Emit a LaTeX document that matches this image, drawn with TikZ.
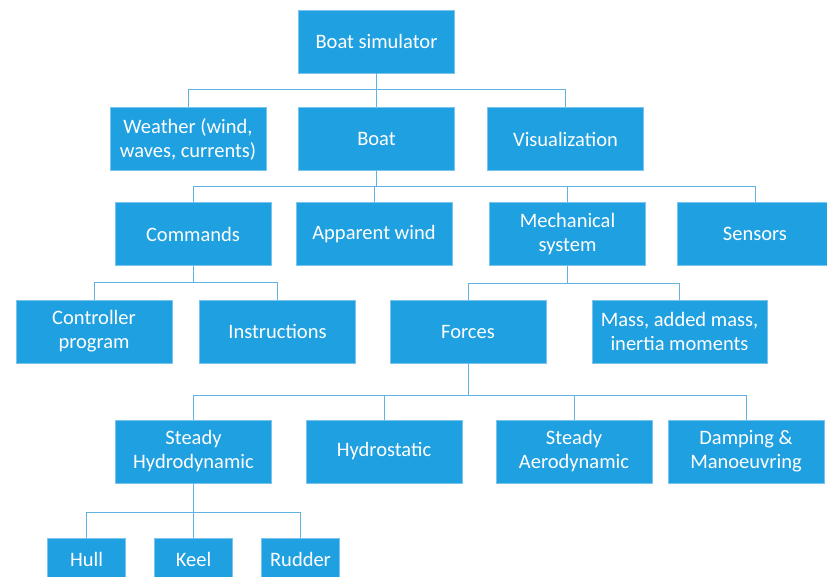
\documentclass[tikz,border=0pt]{standalone}
\usepackage{fontspec}
\setmainfont{Carlito}
\usetikzlibrary{positioning}
\definecolor{boxblue}{RGB}{31,160,224}
\definecolor{boxedge}{RGB}{120,196,236}
\definecolor{linkblue}{RGB}{96,178,226}
\tikzset{
  box/.style={draw=boxedge,line width=0.8pt,fill=boxblue,text=white,minimum width=156pt,minimum height=63pt,inner sep=0pt,align=center,font=\fontsize{20.5}{24}\selectfont},
  smallbox/.style={box,minimum width=78pt,minimum height=42pt},
  link/.style={draw=linkblue,line width=1pt}
}
\begin{document}
\begin{tikzpicture}[x=1pt,y=-1pt]
\useasboundingbox (0,0) rectangle (827,577);
\clip (0,0) rectangle (827,577);
% Level 0 and 1
\node[box] (sim) at (376.5,41.5) {Boat simulator};
\node[box] (weather) at (188,139) {Weather (wind,\\waves, currents)};
\node[box] (boat) at (376.5,139) {Boat};
\node[box] (vis) at (565.5,139) {Visualization};
% Boat parts
\node[box] (cmd) at (193,234) {Commands};
\node[box] (wind) at (374,234) {Apparent wind};
\node[box] (mech) at (567.5,234) {Mechanical\\system};
\node[box] (sens) at (755,234) {Sensors};
% Commands and mechanical system
\node[box] (ctrl) at (94,331.5) {Controller\\program};
\node[box] (instr) at (277.5,331.5) {Instructions};
\node[box] (forces) at (468,331.5) {Forces};
\node[box,minimum width=175pt] (mass) at (679.5,331.5) {Mass, added mass,\\inertia moments};
% Forces
\node[box] (hydro) at (193.5,451.5) {Steady\\Hydrodynamic};
\node[box] (hstat) at (384,451.5) {Hydrostatic};
\node[box] (aero) at (574,451.5) {Steady\\Aerodynamic};
\node[box] (damp) at (746,451.5) {Damping \&\\Manoeuvring};
% Hydrodynamic parts
\node[smallbox] (hull) at (86.5,559) {Hull};
\node[smallbox] (keel) at (193.5,559) {Keel};
\node[smallbox] (rudder) at (300.5,559) {Rudder};
% Links
\foreach \c in {weather,boat,vis}
  \draw[link] (sim.south) -- ++(0,16) -| (\c.north);
\foreach \c in {cmd,wind,mech,sens}
  \draw[link] (boat.south) -- ++(0,16) -| (\c.north);
\foreach \c in {ctrl,instr}
  \draw[link] (cmd.south) -- ++(0,17) -| (\c.north);
\foreach \c in {forces,mass}
  \draw[link] (mech.south) -- ++(0,18) -| (\c.north);
\foreach \c in {hydro,hstat,aero,damp}
  \draw[link] (forces.south) -- ++(0,32) -| (\c.north);
\foreach \c in {hull,keel,rudder}
  \draw[link] (hydro.south) -- ++(0,29) -| (\c.north);
\end{tikzpicture}
\end{document}
